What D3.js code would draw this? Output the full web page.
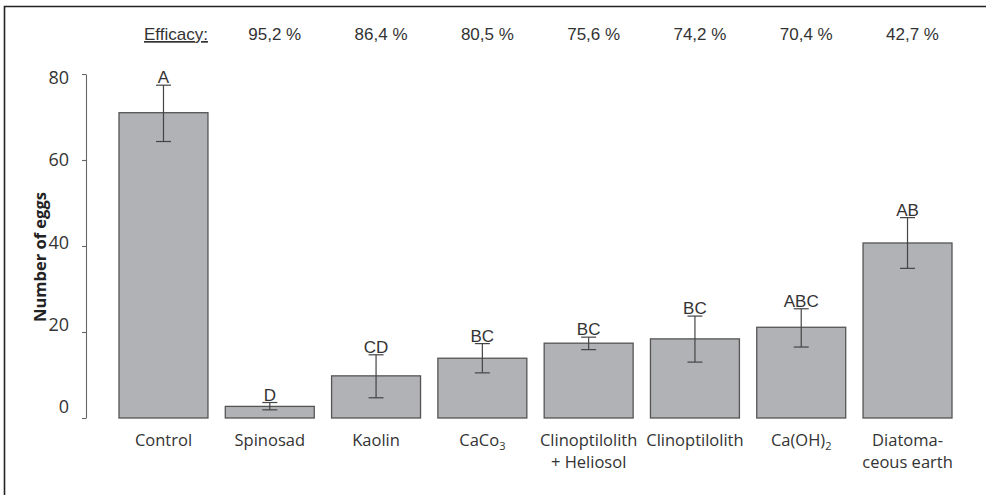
<!DOCTYPE html>
<html>
<head>
<meta charset="utf-8">
<script src="https://cdn.jsdelivr.net/npm/d3@7"></script>
<style>
  body { margin: 0; background: #fff; }
  svg { display: block; }
</style>
</head>
<body>
<svg id="chart" width="986" height="495"></svg>
<script>
// treatments, in plot order
var treatments = ["Control", "Spinosad", "Kaolin", "CaCo3", "Clinoptilolith + Heliosol",
                  "Clinoptilolith", "Ca(OH)2", "Diatomaceous earth"];
// axis label lines, "_" marks a subscript
var labelLines = [["Control"], ["Spinosad"], ["Kaolin"], ["CaCo_3"], ["Clinoptilolith", "+ Heliosol"],
                  ["Clinoptilolith"], ["Ca(OH)_2"], ["Diatoma-", "ceous earth"]];
// mean number of eggs and the error bar ends
var meanEggs  = [71.0, 2.7, 9.8, 13.9, 17.4, 18.4, 21.1, 40.7];
var errUpper  = [77.4, 3.6, 14.7, 17.3, 18.8, 23.7, 25.4, 46.6];
var errLower  = [64.3, 1.9, 4.7, 10.5, 15.9, 13.0, 16.5, 34.8];
var sigLetters = ["A", "D", "CD", "BC", "BC", "BC", "ABC", "AB"];
// efficacy row (no entry for control)
var efficacy = [null, "95,2 %", "86,4 %", "80,5 %", "75,6 %", "74,2 %", "70,4 %", "42,7 %"];
var yTicks = [0, 20, 40, 60, 80];

var svg = d3.select("#chart");

var x = d3.scaleBand().domain(treatments).range([119, 952]).paddingInner(0.163).paddingOuter(0);
var y = d3.scaleLinear().domain([0, 80]).range([418, 74]);
// the tick numbers in the original sit on a slightly compressed scale
var yLab = d3.scaleLinear().domain([0, 80]).range([407, 77.5]);

// frame (open at right and bottom)
svg.append("path")
  .attr("d", "M4.5,495 L4.5,6.5 L986,6.5")
  .attr("fill", "none").attr("stroke", "#222").attr("stroke-width", 1.6);

// y axis
var yAxis = svg.append("g")
  .attr("transform", "translate(86,0)")
  .call(d3.axisLeft(y).tickValues(yTicks).tickSize(4).tickSizeOuter(0).tickPadding(13));
yAxis.select(".domain").attr("stroke", "#666").attr("stroke-width", 1.1);
yAxis.selectAll(".tick line").attr("stroke", "#666").attr("stroke-width", 1.1);
yAxis.selectAll(".tick text")
  .attr("font-family", "'Open Sans', sans-serif").attr("font-size", 18).attr("fill", "#333")
  .attr("transform", function(d) { return "translate(0," + (yLab(d) - y(d)) + ")"; });

svg.append("text")
  .attr("transform", "translate(46,257) rotate(-90)")
  .attr("text-anchor", "middle")
  .attr("font-family", "'Open Sans', sans-serif").attr("font-weight", "bold")
  .attr("font-size", 16.5).attr("fill", "#222")
  .text("Number of eggs");

// bars
svg.selectAll("rect.bar").data(treatments).enter().append("rect")
  .attr("class", "bar")
  .attr("x", function(d) { return x(d); })
  .attr("width", x.bandwidth())
  .attr("y", function(d, i) { return y(meanEggs[i]); })
  .attr("height", function(d, i) { return y(0) - y(meanEggs[i]); })
  .attr("fill", "#b1b2b5").attr("stroke", "#555").attr("stroke-width", 1.3);

// error bars
var capW = 7.5;
var err = svg.selectAll("g.err").data(treatments).enter().append("g")
  .attr("class", "err")
  .attr("transform", function(d) { return "translate(" + (x(d) + x.bandwidth() / 2) + ",0)"; })
  .attr("stroke", "#444").attr("stroke-width", 1.2);
err.append("line")
  .attr("y1", function(d, i) { return y(errUpper[i]); })
  .attr("y2", function(d, i) { return y(errLower[i]); });
err.append("line").attr("x1", -capW).attr("x2", capW)
  .attr("y1", function(d, i) { return y(errUpper[i]); })
  .attr("y2", function(d, i) { return y(errUpper[i]); });
err.append("line").attr("x1", -capW).attr("x2", capW)
  .attr("y1", function(d, i) { return y(errLower[i]); })
  .attr("y2", function(d, i) { return y(errLower[i]); });

// significance letters
svg.selectAll("text.sig").data(treatments).enter().append("text")
  .attr("class", "sig")
  .attr("x", function(d) { return x(d) + x.bandwidth() / 2; })
  .attr("y", function(d, i) { return y(errUpper[i]) - 2; })
  .attr("text-anchor", "middle")
  .attr("font-family", "'Liberation Sans', Arial, sans-serif").attr("font-size", 17).attr("fill", "#333")
  .text(function(d, i) { return sigLetters[i]; });

// category labels
function addRichText(sel, str) {
  var parts = str.split("_");
  sel.append("tspan").text(parts[0]);
  if (parts.length > 1)
    sel.append("tspan").attr("font-size", 11).attr("dy", 4).text(parts[1]);
}
var catLab = svg.selectAll("g.cat").data(treatments).enter().append("g")
  .attr("class", "cat")
  .attr("transform", function(d) { return "translate(" + (x(d) + x.bandwidth() / 2) + ",0)"; });
catLab.each(function(d, i) {
  var g = d3.select(this);
  labelLines[i].forEach(function(line, j) {
    var t = g.append("text")
      .attr("y", 446 + j * 22)
      .attr("text-anchor", "middle")
      .attr("font-family", "'Open Sans', sans-serif").attr("font-size", 16.5).attr("fill", "#333");
    addRichText(t, line);
  });
});

// efficacy row
svg.append("text")
  .attr("x", 176).attr("y", 40)
  .attr("text-anchor", "middle")
  .attr("font-family", "'Liberation Sans', Arial, sans-serif").attr("font-size", 17).attr("fill", "#333")
  .attr("text-decoration", "underline")
  .text("Efficacy:");
svg.selectAll("text.eff").data(treatments.filter(function(d, i) { return efficacy[i]; }))
  .enter().append("text")
  .attr("class", "eff")
  .attr("x", function(d) { return x(d) + x.bandwidth() / 2 + 5; })
  .attr("y", 40)
  .attr("text-anchor", "middle")
  .attr("font-family", "'Liberation Sans', Arial, sans-serif").attr("font-size", 17).attr("fill", "#333")
  .text(function(d) { return efficacy[treatments.indexOf(d)]; });
</script>
</body>
</html>
